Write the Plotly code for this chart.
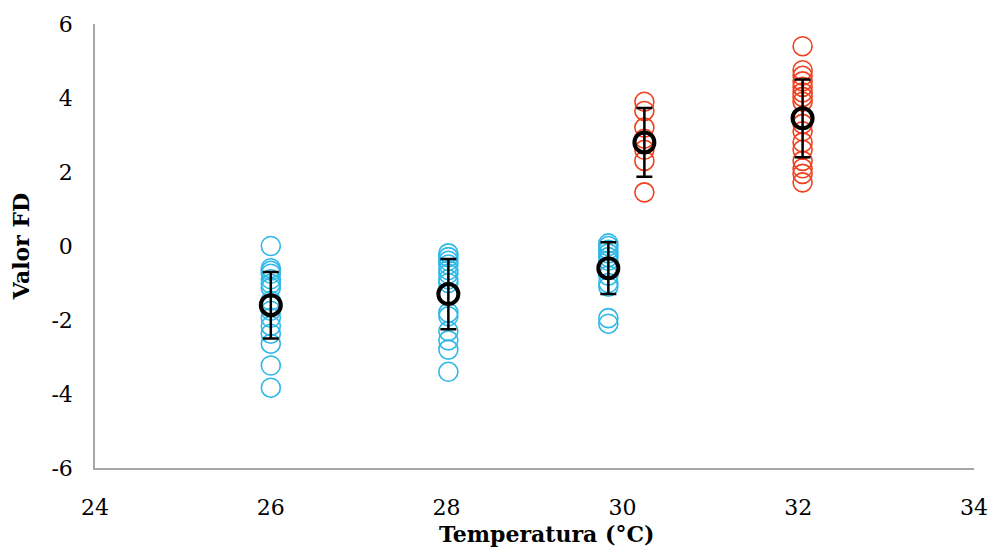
import plotly.graph_objects as go

# Individual values
x_26 = 26.0
y_26 = [0.0, -0.6, -0.67, -0.75, -0.9, -1.02, -1.13, -1.48, -1.75, -1.94, -2.16, -2.37, -2.64, -3.23, -3.83]
x_28 = 28.02
y_28 = [-0.2, -0.3, -0.4, -0.5, -0.65, -0.75, -0.9, -1.0, -1.8, -1.9, -2.3, -2.55, -2.8, -3.4]
x_30a = 29.84
y_30a = [0.07, 0.0, -0.1, -0.2, -0.3, -0.4, -0.8, -1.0, -1.1, -1.95, -2.1]
x_30b = 30.25
y_30b = [3.9, 3.65, 3.2, 2.9, 2.6, 2.3, 1.45]
x_32 = 32.05
y_32 = [5.4, 4.75, 4.6, 4.45, 4.3, 4.15, 4.03, 3.9, 3.3, 3.1, 2.8, 2.6, 2.3, 2.1, 1.95, 1.72]

# Means and SD
mean_x = [26.0, 28.02, 29.84, 30.25, 32.05]
mean_y = [-1.6, -1.3, -0.6, 2.8, 3.45]
mean_err = [0.9, 0.95, 0.7, 0.93, 1.05]

# Tick labels
x_ticks = [24, 26, 28, 30, 32, 34]
x_ticktext = ["24", "26", "28", "30", "32", "34"]
y_ticks = [-6, -4, -2, 0, 2, 4, 6]
y_ticktext = ["-6", "-4", "-2", "0", "2", "4", "6"]

blue = "#2DB8E8"
red = "#F0401E"

fig = go.Figure()

def add_group(xv, ys, color):
    fig.add_trace(go.Scatter(
        x=[xv] * len(ys), y=ys, mode="markers",
        marker=dict(symbol="circle-open", size=19, color=color, line=dict(width=1.6, color=color)),
        showlegend=False, hoverinfo="skip"))

add_group(x_26, y_26, blue)
add_group(x_28, y_28, blue)
add_group(x_30a, y_30a, blue)
add_group(x_30b, y_30b, red)
add_group(x_32, y_32, red)

fig.add_trace(go.Scatter(
    x=mean_x, y=mean_y, mode="markers",
    marker=dict(symbol="circle-open", size=20, color="black", line=dict(width=4, color="black")),
    error_y=dict(type="data", array=mean_err, visible=True, color="black", thickness=2.5, width=8),
    showlegend=False))

font_family = "DejaVu Serif"
fig.update_layout(
    width=1000, height=548,
    margin=dict(l=95, r=25, t=20, b=80),
    paper_bgcolor="white", plot_bgcolor="white",
    font=dict(family=font_family, size=22, color="black"),
    xaxis=dict(range=[24, 34], tickvals=x_ticks, ticktext=x_ticktext, showgrid=False, zeroline=False,
               showline=True, linecolor="#A6A6A6", linewidth=1.5,
               ticks="outside", ticklen=19, tickcolor="rgba(0,0,0,0)"),
    yaxis=dict(range=[-6, 6], tickvals=y_ticks, ticktext=y_ticktext, showgrid=False, zeroline=False,
               showline=True, linecolor="#A6A6A6", linewidth=1.5,
               ticks="outside", ticklen=16, tickcolor="rgba(0,0,0,0)",
               title=dict(text="<b>Valor FD</b>", standoff=16, font=dict(size=22))),
    annotations=[dict(text="<b>Temperatura (°C)</b>", xref="paper", yref="paper",
                      x=(547 - 95) / 880, y=0, yshift=-66, xanchor="center", yanchor="middle",
                      showarrow=False, font=dict(size=22))],
)

fig.write_html("out.html")
